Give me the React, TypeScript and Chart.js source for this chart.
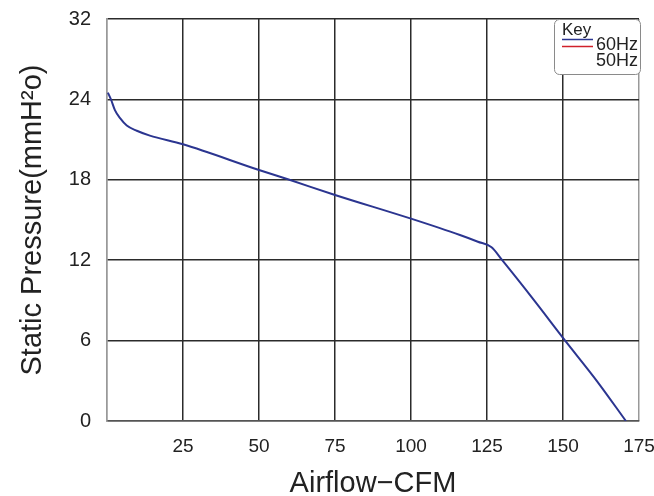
import React, { useEffect, useRef } from "react";
import { Chart, registerables } from "chart.js";

Chart.register(...registerables);

// ---- data ----
const airflowCFM = [0.3, 1.3, 2.6, 4.3, 6.5, 9.8, 14.1, 25, 50, 60, 75, 100, 116.1, 122, 126.5, 130, 140, 150.7, 161.1, 170.7];
const pressureMmH2O = [24.67, 24.0, 23.2, 22.6, 22.05, 21.66, 21.3, 20.65, 18.73, 18.0, 16.87, 15.1, 13.88, 13.38, 12.96, 12.0, 9.15, 6.0, 3.0, 0];

const xTicks = [25, 50, 75, 100, 125, 150, 175];
const yTickLabels = ["0", "6", "12", "18", "24", "32"];

const legendTitle = "Key";
const legendLabels = ["60Hz", "50Hz"];
const legendColors = ["#2b3590", "#d0202a"];

const xTitle = "Airflow\u2212CFM";
const yTitle = "Static Pressure(mmH\u00B2o)";

// The y axis has equal spacing for 0,6,12,18,24 and 32 (last step is 8 units)
const toAxis = (v: number) => (v <= 24 ? v : 24 + (v - 24) * 0.75);

const FONT = '"Liberation Sans", Arial, Helvetica, sans-serif';

const keyPlugin = {
  id: "keyBox",
  afterDraw(chart: any) {
    const { ctx, chartArea } = chart;
    const x0 = chartArea.right - 85;
    const t = chartArea.top;
    ctx.save();
    ctx.fillStyle = "#ffffff";
    ctx.strokeStyle = "#8a8a8a";
    ctx.lineWidth = 1;
    ctx.beginPath();
    ctx.roundRect(x0 + 0.5, t + 0.5, 86, 55, 5);
    ctx.fill();
    ctx.stroke();
    ctx.fillStyle = "#222";
    ctx.textBaseline = "alphabetic";
    ctx.textAlign = "left";
    ctx.font = `17px ${FONT}`;
    ctx.fillText(legendTitle, x0 + 8, t + 16);
    const lineYs = [t + 20.5, t + 27.5];
    legendColors.forEach((c, i) => {
      ctx.strokeStyle = c;
      ctx.lineWidth = 1.5;
      ctx.beginPath();
      ctx.moveTo(x0 + 8, lineYs[i]);
      ctx.lineTo(x0 + 39, lineYs[i]);
      ctx.stroke();
    });
    ctx.font = `18px ${FONT}`;
    ctx.textAlign = "right";
    ctx.fillText(legendLabels[0], chartArea.right - 1, t + 31);
    ctx.fillText(legendLabels[1], chartArea.right - 1, t + 46.5);
    ctx.restore();
  },
};

export default function App() {
  const ref = useRef<HTMLCanvasElement | null>(null);

  useEffect(() => {
    if (!ref.current) return;
    const chart = new Chart(ref.current, {
      type: "line",
      data: {
        datasets: [
          {
            label: legendLabels[0],
            data: airflowCFM.map((x, i) => ({ x, y: toAxis(pressureMmH2O[i]) })),
            borderColor: legendColors[0],
            borderWidth: 2,
            pointRadius: 0,
            cubicInterpolationMode: "monotone",
            fill: false,
          },
        ],
      },
      options: {
        animation: false,
        responsive: false,
        events: [],
        layout: { padding: { left: 0, right: 15, top: 19, bottom: 0 } },
        plugins: { legend: { display: false }, tooltip: { enabled: false } },
        scales: {
          x: {
            type: "linear",
            min: 0,
            max: 175,
            afterFit: (s: any) => {
              s.height = 75;
              s.paddingLeft = 0;
              s.paddingRight = 0;
              s.paddingTop = 0;
              s.paddingBottom = 0;
            },
            afterBuildTicks: (s: any) => {
              s.ticks = [0, ...xTicks].map((v) => ({ value: v }));
            },
            ticks: {
              padding: 14,
              color: "#222",
              font: { family: FONT, size: 19 },
              maxRotation: 0,
              callback: (v: any) => (v === 0 ? "" : String(v)),
            },
            grid: {
              drawTicks: false,
              lineWidth: 1.5,
              color: (c: any) =>
                c.tick && c.tick.value === 0 ? "#999" : c.tick && c.tick.value === 175 ? "#999" : "#2b2b2b",
            },
            border: { display: true, color: "#555", width: 1.5 },
            title: {
              display: true,
              text: xTitle,
              color: "#222",
              font: { family: FONT, size: 29, lineHeight: 0.8 },
              padding: { top: 0, bottom: 0 },
            },
          },
          y: {
            type: "linear",
            min: 0,
            max: 30,
            afterFit: (s: any) => {
              s.width = 107;
              s.paddingLeft = 0;
              s.paddingRight = 0;
              s.paddingTop = 0;
              s.paddingBottom = 0;
            },
            afterBuildTicks: (s: any) => {
              s.ticks = [0, 6, 12, 18, 24, 30].map((v) => ({ value: v }));
            },
            ticks: {
              padding: 16,
              color: "#222",
              font: { family: FONT, size: 20 },
              callback: (_v: any, i: number) => yTickLabels[i],
            },
            grid: {
              drawTicks: false,
              lineWidth: 1.5,
              color: (c: any) => (c.tick && c.tick.value === 0 ? "#555" : "#2b2b2b"),
            },
            border: { display: true, color: "#999", width: 1.5 },
            title: {
              display: true,
              text: yTitle,
              color: "#222",
              font: { family: FONT, size: 29, lineHeight: 1 },
              padding: { top: 18, bottom: 0 },
            },
          },
        },
      },
      plugins: [keyPlugin],
    } as any);
    return () => chart.destroy();
  }, []);

  return (
    <div style={{ position: "fixed", left: 0, top: 0, width: 654, height: 496, background: "#fff" }}>
      <canvas ref={ref} width={654} height={496} style={{ display: "block" }} />
    </div>
  );
}
